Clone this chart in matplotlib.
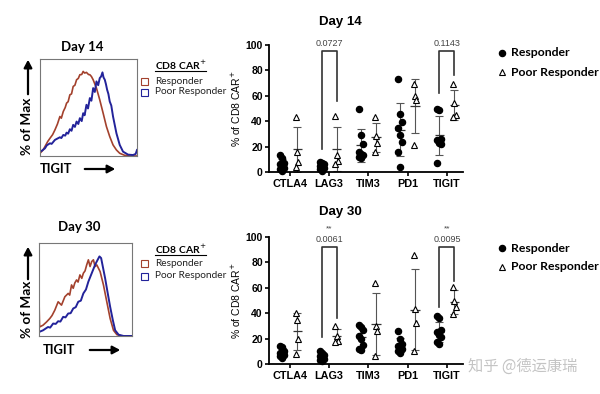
import matplotlib
matplotlib.use("Agg")
import matplotlib.pyplot as plt
import numpy as np
from matplotlib.patches import Rectangle, FancyArrowPatch

W, H = 600, 394

# ---- histogram traces (x, y in % of axis range) ----
h14_resp_x = [0, 3, 5.1, 8, 10.3, 13, 15.4, 18, 20.5, 22, 24, 26, 27.4, 29, 30.8, 32.5, 34.2,
              36, 37.7, 39.5, 41.1, 43, 44.5, 46, 47.9, 50, 51.4, 53, 54.8, 58.2, 61.6, 65.1,
              68.5, 71.9, 75.3, 78.8, 82.2, 87.3, 92.5, 100]
h14_resp_y = [2.8, 6, 9.7, 15, 18.3, 22, 26.9, 33, 40.7, 39, 45.9, 50, 54.5, 56, 63.1, 64, 71.7,
              73, 78.6, 80, 83.8, 84, 87.2, 85.5, 86.2, 84, 83.8, 82, 78.6, 70, 57.9, 44.1,
              30.3, 20, 11.4, 6.2, 2.8, 0.7, 0, 0]
h14_poor_x = [0, 2, 5.1, 7, 10.3, 12, 15.4, 18, 20.5, 22, 24, 26, 27.4, 29, 30.8, 32.5, 34.2,
              36, 37.7, 39.5, 41.1, 43, 44.5, 46, 47.9, 49.5, 51.4, 53, 54.8, 56.5, 58.2, 60,
              61.6, 63, 64.4, 65.5, 66.8, 68, 69.2, 70.5, 71.9, 73.5, 75.3, 78.8, 82.2, 85.6,
              90.8, 95.9, 98.6, 100]
h14_poor_y = [4.5, 5.5, 7.9, 11, 13.1, 12.5, 16.6, 18, 19.3, 18.5, 21.7, 21, 24.1, 23, 27.6,
              26, 32.1, 30, 35.5, 33, 39, 36, 44.1, 42, 52.8, 49, 59.7, 57, 70, 66, 76.9, 73,
              80.3, 82, 86.2, 81, 78.6, 74, 68.3, 64, 56.2, 52, 40.7, 23.4, 11.4, 4.5,
              1.4, 1, 2.1, 6.2]
h30_resp_x = [0, 0.6, 4.3, 8, 11.6, 14, 17, 20.6, 24.2, 27.8, 31.4, 33, 35, 36.8, 38.5, 40.4,
              42, 44, 46, 47.7, 49.5, 51.3, 53.1, 54.9, 56.7, 58.5, 60.3, 62.1, 65.7, 69.3,
              72.9, 76.5, 80.1, 83.8, 89.2, 100]
h30_resp_y = [40.4, 9.7, 11.6, 15, 18.8, 22, 27.8, 36.8, 33.2, 42.2, 45.8, 44, 54.9, 51.3, 57,
              60.3, 58, 65.7, 62, 67.5, 70, 76.5, 81.9, 74.7, 80.1, 81.9, 74.7, 76.5, 69.3,
              54.9, 36.8, 18.8, 6.1, 1.4, 0, 0]
h30_poor_x = [0, 4.3, 9.7, 12, 15.2, 18, 20.6, 23, 26, 28.5, 31.4, 34, 36.8, 39.5, 42.2, 45,
              47.7, 50.5, 53.1, 56.7, 60.3, 62.1, 65, 66.8, 68.6, 71.1, 73.6, 76.5, 79.4, 81.9,
              85.6, 91, 100]
h30_poor_y = [4.3, 6.1, 9.7, 9, 13.4, 13, 15.9, 15.5, 20.6, 20, 24.2, 24.5, 29.6, 31, 36.8,
              38, 45.8, 50, 58.5, 67.5, 76.5, 80.1, 85.6, 83.8, 74.7, 62.1, 47.7, 31.4, 17,
              6.1, 1.4, 0, 0]

# ---- scatter data (% of CD8 CAR+) ----
markers = ["CTLA4", "LAG3", "TIM3", "PD1", "TIGIT"]
d14_resp = [[13, 11, 7, 6, 4, 3, 2, 1],
            [8, 7, 6, 5, 4, 3, 2, 1],
            [50, 29, 22, 16, 14, 13, 12, 11],
            [73, 46, 39, 35, 29, 24, 16, 4],
            [50, 49, 26, 25, 23, 22, 7]]
d14_poor = [[43, 16, 8, 4], [44, 13, 9, 6], [43, 28, 23, 16], [69, 60, 57, 21], [69, 54, 45, 43]]
d30_resp = [[14, 13, 10, 9, 8, 7, 6, 5],
            [10, 9, 7, 6, 5, 4, 3, 2],
            [31, 29, 27, 22, 20, 15, 12, 11],
            [26, 20, 16, 14, 13, 12, 10, 9],
            [38, 36, 27, 25, 23, 21, 17, 16]]
d30_poor = [[40, 35, 20, 8], [30, 22, 18, 17], [64, 30, 26, 6], [86, 43, 32, 10], [61, 50, 45, 39]]

# brackets: (marker index, left leg bottom, right leg bottom, top, p text, stars)
d14_brackets = [(1, 18, 56, 95, "0.0727", ""), (4, 62, 76, 95, "0.1143", "")]
d30_brackets = [(1, 21, 36, 92, "0.0061", "**"), (4, 45, 65, 92, "0.0095", "**")]

RED = "#a3412d"
BLUE = "#23239a"
HFONT = "Lato"
SFONT = "Liberation Sans"


def fx(x):
    return x / W


def fy(y):
    return 1 - y / H


fig = plt.figure(figsize=(6, 3.94), dpi=100)


def arrow(p0, p1):
    fig.add_artist(FancyArrowPatch(
        (fx(p0[0]), fy(p0[1])), (fx(p1[0]), fy(p1[1])), transform=fig.transFigure,
        arrowstyle="-|>,head_length=4.5,head_width=2.4", color="black", lw=1.6))


def histo(rect, rx, ry, bx, by, title, ty, leg_y, ylab_y, arrow_y, tig_y, tig_x):
    l, t, r, b = rect
    ax = fig.add_axes([fx(l), fy(b), (r - l) / W, (b - t) / H])
    ax.plot(rx, ry, color=RED, lw=1.2)
    ax.plot(bx, by, color=BLUE, lw=1.4)
    ax.set_xlim(0, 100)
    ax.set_ylim(0, 100)
    ax.set_xticks([])
    ax.set_yticks([])
    for s in ax.spines.values():
        s.set_color("#777777")
        s.set_linewidth(0.8)
    fig.text(fx((l + r) / 2 - 6), fy(ty), title, ha="center", va="center",
             fontsize=9.5, fontweight="bold", family=HFONT)
    # legend
    fig.text(fx(155), fy(leg_y[0]), "CD8 CAR$^{+}$", ha="left", va="center",
             fontsize=7.5, fontweight="bold", family=HFONT)
    fig.add_artist(plt.Line2D([fx(155), fx(206)], [fy(leg_y[0] + 6)] * 2,
                              color="black", lw=0.8))
    for yy, col, lab in [(leg_y[1], RED, "Responder"), (leg_y[2], BLUE, "Poor Responder")]:
        fig.add_artist(Rectangle((fx(141), fy(yy + 4)), 7 / W, 7 / H, fill=False,
                                 edgecolor=col, lw=0.8, transform=fig.transFigure))
        fig.text(fx(155), fy(yy), lab, ha="left", va="center", fontsize=7.3,
                 family=HFONT, color="#222222")
    # y label with arrow
    fig.text(fx(27), fy(ylab_y), "% of Max", rotation=90, ha="center", va="center",
             fontsize=9.8, fontweight="bold", family=HFONT)
    arrow((28, arrow_y[0]), (28, arrow_y[1]))
    fig.text(fx(tig_x[0]), fy(tig_y), "TIGIT", ha="left", va="center",
             fontsize=9.3, fontweight="bold", family=HFONT)
    arrow((tig_x[1], tig_y), (tig_x[2], tig_y))


histo((40, 59, 137, 156), h14_resp_x, h14_resp_y, h14_poor_x, h14_poor_y,
      "Day 14", 47, (65, 81, 92), 126, (97, 57), 169, (40, 82, 118))
histo((39, 243, 132, 336), h30_resp_x, h30_resp_y, h30_poor_x, h30_poor_y,
      "Day 30", 227, (249, 263, 276), 309, (282, 244), 350, (43, 87, 123))


def offsets(n):
    return np.array([((i % 3) - 1) * 0.05 for i in range(n)])


def scatter(top, bottom, resp, poor, brackets, title, title_y, leg_y):
    ax = fig.add_axes([fx(269), fy(bottom), (463 - 269) / W, (bottom - top) / H])
    pos = np.arange(len(markers))
    dx = 0.19
    for i in pos:
        for vals, sgn, mk in [(resp[i], -1, "o"), (poor[i], 1, "^")]:
            v = np.array(vals, dtype=float)
            xc = i + sgn * dx
            m, sd = v.mean(), v.std(ddof=1)
            ax.errorbar([xc], [m], yerr=[sd], color="#555555", lw=0.8, capsize=2.8,
                        capthick=0.8, zorder=2)
            ax.hlines(m, xc - 0.12, xc + 0.12, color="#333333", lw=0.9, zorder=2)
            if mk == "o":
                ax.plot(xc + offsets(len(v)), v, "o", ms=4.4, color="black",
                        clip_on=False, zorder=3)
            else:
                ax.plot(xc + offsets(len(v)) * 0.6, v, "^", ms=4.8, mfc="white",
                        mec="black", mew=0.8, clip_on=False, zorder=3)
    for i, lb, rb, tp, ptxt, stars in brackets:
        x0, x1 = i - dx, i + dx
        ax.plot([x0, x0, x1, x1], [lb, tp, tp, rb], color="#333333", lw=1.2,
                clip_on=False)
        ax.text(i, tp + 6, ptxt, ha="center", va="center", fontsize=6.5,
                color="#444444", family=SFONT)
        if stars:
            ax.text(i, tp + 14, stars, ha="center", va="center", fontsize=6,
                    color="#444444", family=SFONT)
    ax.set_xlim(-0.53, 4.41)
    ax.set_ylim(0, 100)
    ax.set_yticks([0, 20, 40, 60, 80, 100])
    ax.set_xticks(pos)
    ax.set_xticklabels(markers)
    for lab in ax.get_xticklabels() + ax.get_yticklabels():
        lab.set_fontweight("bold")
        lab.set_family(SFONT)
    ax.tick_params(axis="x", labelsize=7.8, length=3, width=1.2, pad=2)
    ax.tick_params(axis="y", labelsize=7.5, length=3, width=1.2, pad=1.5)
    for s in ["top", "right"]:
        ax.spines[s].set_visible(False)
    for s in ["left", "bottom"]:
        ax.spines[s].set_linewidth(1.3)
    ax.set_ylabel("% of CD8 CAR$^{+}$", fontsize=7.5, family=SFONT, labelpad=2)
    fig.text(fx(340), fy(title_y), title, ha="center", va="center", fontsize=9.5,
             fontweight="bold", family=SFONT)
    # legend
    fig.add_artist(plt.Line2D([fx(502)], [fy(leg_y[0])], marker="o", ms=4.4,
                              color="black", transform=fig.transFigure))
    fig.add_artist(plt.Line2D([fx(502)], [fy(leg_y[1])], marker="^", ms=4.8,
                              mfc="white", mec="black", mew=0.8, transform=fig.transFigure))
    fig.text(fx(511), fy(leg_y[0]), "Responder", ha="left", va="center", fontsize=8.8,
             fontweight="bold", family=HFONT)
    fig.text(fx(511), fy(leg_y[1]), "Poor Responder", ha="left", va="center",
             fontsize=8.8, fontweight="bold", family=HFONT)


scatter(45, 172, d14_resp, d14_poor, d14_brackets, "Day 14", 22, (53, 72))
scatter(237, 364, d30_resp, d30_poor, d30_brackets, "Day 30", 212, (248, 267))

fig.text(fx(523), fy(366), "知乎 @德运康瑞", ha="center", va="center", fontsize=11,
         color="#c4c4c4", family=["Noto Sans CJK SC", "DejaVu Sans"])

fig.savefig("out.png", dpi=100)
